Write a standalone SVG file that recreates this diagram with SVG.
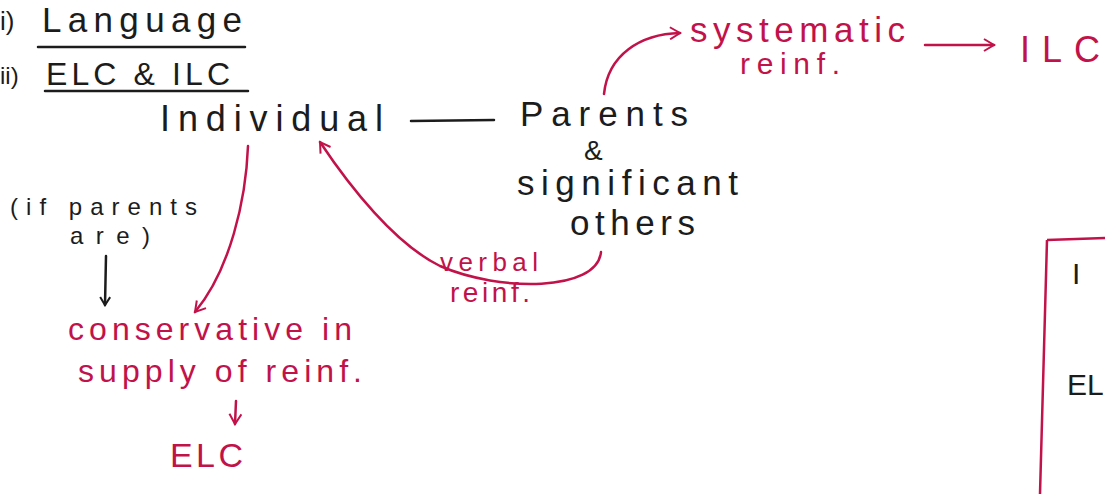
<svg xmlns="http://www.w3.org/2000/svg" width="1105" height="494" viewBox="0 0 1105 494">
<style>
text{font-family:"Liberation Sans",Arial,sans-serif;}
.k{fill:#1c1c1c;}
.r{fill:#c2124a;}
.lk{stroke:#1c1c1c;stroke-width:2.5;fill:none;stroke-linecap:round;}
.lr{stroke:#c2124a;stroke-width:2.5;fill:none;stroke-linecap:round;}
</style>
<defs>
<marker id="ak" viewBox="0 0 12 12" refX="10" refY="6" markerWidth="12" markerHeight="12" markerUnits="userSpaceOnUse" orient="auto"><path d="M2,1 L10,6 L2,11" fill="none" stroke="#1c1c1c" stroke-width="2"/></marker>
<marker id="ar" viewBox="0 0 14 14" refX="12" refY="7" markerWidth="14" markerHeight="14" markerUnits="userSpaceOnUse" orient="auto"><path d="M2,1 L12,7 L2,13" fill="none" stroke="#c2124a" stroke-width="2"/></marker>
</defs>
<rect width="1105" height="494" fill="#ffffff"/>
<g id="headings">
<text class="k" x="0" y="30" font-size="26">i)</text>
<text class="k" x="42" y="32" font-size="35" textLength="200" lengthAdjust="spacing">Language</text>
<path class="lk" d="M38,47 L245,47"/>
<text class="k" x="0" y="84" font-size="24">ii)</text>
<text class="k" x="46" y="85" font-size="32" textLength="184" lengthAdjust="spacing">ELC &amp; ILC</text>
<path class="lk" d="M45,91 L248,91"/>
</g>
<g id="individual">
<text class="k" x="160" y="131" font-size="36" textLength="223" lengthAdjust="spacing">Individual</text>
</g>
<g id="parents">
<text class="k" x="520" y="126" font-size="35" textLength="168" lengthAdjust="spacing">Parents</text>
<text class="k" x="584" y="160" font-size="28">&amp;</text>
<text class="k" x="517" y="195" font-size="35" textLength="221" lengthAdjust="spacing">significant</text>
<text class="k" x="570" y="235" font-size="35" textLength="125" lengthAdjust="spacing">others</text>
</g>
<g id="condition">
<text class="k" x="10" y="215" font-size="24" textLength="187" lengthAdjust="spacing">(if parents</text>
<text class="k" x="70" y="244" font-size="24" textLength="80" lengthAdjust="spacing">are)</text>
</g>
<g id="conservative">
<text class="r" x="68" y="340" font-size="32" textLength="284" lengthAdjust="spacing">conservative in</text>
<text class="r" x="78" y="382" font-size="32" textLength="284" lengthAdjust="spacing">supply of reinf.</text>
</g>
<g id="elc">
<text class="r" x="170" y="467" font-size="34" textLength="73" lengthAdjust="spacing">ELC</text>
</g>
<g id="verbal">
<text class="r" x="440" y="271" font-size="26" textLength="98" lengthAdjust="spacing">verbal</text>
<text class="r" x="450" y="302" font-size="28" textLength="80" lengthAdjust="spacing">reinf.</text>
</g>
<g id="systematic">
<text class="r" x="690" y="42" font-size="35" textLength="215" lengthAdjust="spacing">systematic</text>
<text class="r" x="740" y="74" font-size="30" textLength="100" lengthAdjust="spacing">reinf.</text>
</g>
<g id="ilc">
<text class="r" x="1020" y="62" font-size="36" textLength="80" lengthAdjust="spacing">ILC</text>
</g>
<g id="box">
<path d="M1047,240 L1105,238 M1047,240 L1040,494" stroke="#c2124a" stroke-width="2.5" fill="none"/>
<text class="k" x="1072" y="284" font-size="30">I</text>
<text class="k" x="1067" y="395" font-size="30">EL</text>
</g>
<g id="connectors">
<path class="lk" d="M411,121 L494,120"/>
<path class="lk" d="M106,256 L105,305" marker-end="url(#ak)"/>
<path class="lr" d="M236,401 L235,424" marker-end="url(#ar)"/>
<path class="lr" d="M248,146 C246,200 230,270 195,312" marker-end="url(#ar)"/>
<path class="lr" d="M601,252 C597,292 500,292 440,266 C395,244 350,187 320,142" marker-end="url(#ar)"/>
<path class="lr" d="M604,94 C608,55 640,34 680,33" marker-end="url(#ar)"/>
<path class="lr" d="M925,45 L994,45" marker-end="url(#ar)"/>
</g>
</svg>
